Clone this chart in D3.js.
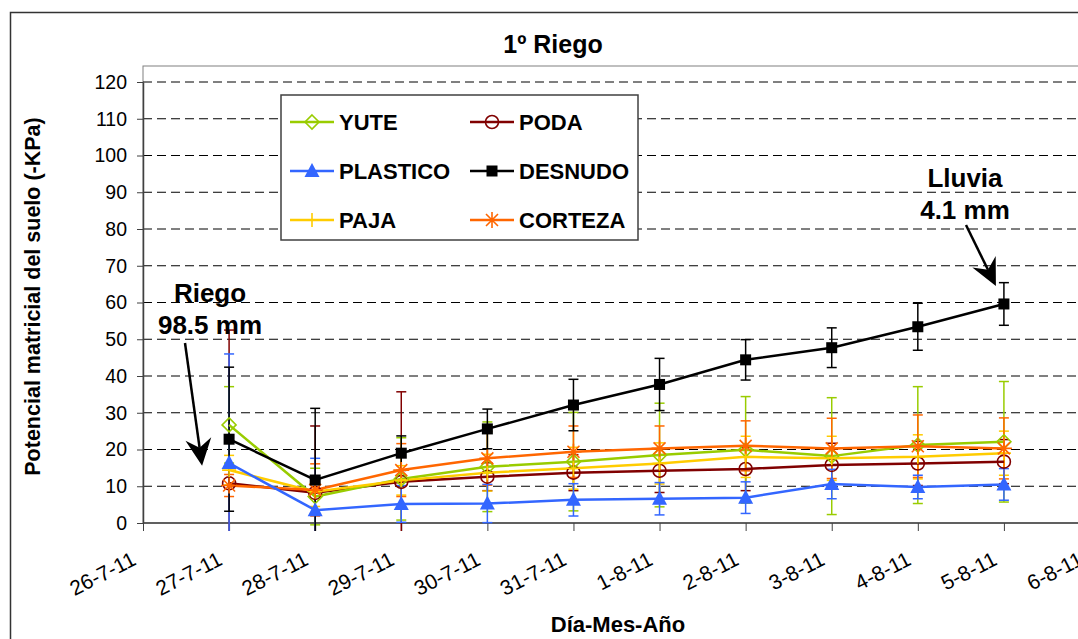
<!DOCTYPE html>
<html>
<head>
<meta charset="utf-8">
<script src="https://cdnjs.cloudflare.com/ajax/libs/d3/7.8.5/d3.min.js"></script>
<style>
  body { margin: 0; background: #fff; }
  svg { display: block; font-family: "Liberation Sans", Arial, sans-serif; }
</style>
</head>
<body>
<div id="chart"></div>
<script>
// tick labels of the date axis and the sampled dates
const dateLabels = ["26-7-11", "27-7-11", "28-7-11", "29-7-11", "30-7-11", "31-7-11",
  "1-8-11", "2-8-11", "3-8-11", "4-8-11", "5-8-11", "6-8-11"];
const sampleDates = ["27-7-11", "28-7-11", "29-7-11", "30-7-11", "31-7-11",
  "1-8-11", "2-8-11", "3-8-11", "4-8-11", "5-8-11"];
const yTicks = [0, 10, 20, 30, 40, 50, 60, 70, 80, 90, 100, 110, 120];

// soil matric potential (-kPa) and error bar half-widths
const yute = [26.7, 7.2, 12.0, 15.3, 16.7, 18.5, 19.9, 18.2, 21.2, 22.1];
const yuteErr = [10.4, 7.7, 11.2, 12.2, 13.4, 14.1, 14.5, 15.9, 15.9, 16.4];
const plastico = [16.3, 3.5, 5.2, 5.3, 6.3, 6.6, 6.9, 10.6, 9.8, 10.5];
const plasticoErr = [29.7, 14.1, 5.0, 5.2, 4.4, 4.4, 4.3, 4.0, 3.2, 4.3];
const paja = [14.4, 8.5, 11.6, 13.7, 14.9, 16.2, 18.0, 17.6, 18.0, 19.0];
const pajaErr = [4.0, 4.0, 4.0, 5.0, 5.7, 5.6, 5.6, 6.0, 6.0, 6.0];
const poda = [10.8, 8.2, 11.2, 12.6, 13.7, 14.2, 14.7, 15.8, 16.2, 16.7];
const podaErr = [41.7, 18.2, 24.5, 3.8, 4.9, 5.9, 5.9, 5.9, 6.0, 6.0];
const desnudo = [22.8, 11.7, 19.0, 25.6, 32.1, 37.7, 44.4, 47.7, 53.4, 59.6];
const desnudoErr = [19.6, 19.5, 4.7, 5.4, 7.0, 7.1, 5.5, 5.4, 6.4, 5.8];
const corteza = [10.2, 9.0, 14.4, 17.6, 19.4, 20.3, 21.0, 20.3, 20.9, 20.3];
const cortezaErr = [3.0, 7.1, 7.2, 7.3, 7.0, 6.1, 6.8, 8.2, 8.5, 8.3];

const series = [
  { name: "YUTE", values: yute, err: yuteErr, color: "#99cc00", marker: "diamond" },
  { name: "PODA", values: poda, err: podaErr, color: "#800000", marker: "circle" },
  { name: "PLASTICO", values: plastico, err: plasticoErr, color: "#3366ff", marker: "triangle" },
  { name: "DESNUDO", values: desnudo, err: desnudoErr, color: "#000000", marker: "square" },
  { name: "PAJA", values: paja, err: pajaErr, color: "#ffcc00", marker: "plus" },
  { name: "CORTEZA", values: corteza, err: cortezaErr, color: "#ff6600", marker: "star" }
];
// drawing order (last on top)
const drawOrder = ["PODA", "YUTE", "PAJA", "CORTEZA", "PLASTICO", "DESNUDO"];

const W = 1078, H = 639;
const plotLeft = 143, plotTop = 66, plotRight = 1110, plotBottom = 523;

const svg = d3.select("#chart").append("svg")
  .attr("width", W).attr("height", H);

// outer chart border
svg.append("rect")
  .attr("x", 10.5).attr("y", 12.5).attr("width", 1200).attr("height", 700)
  .attr("fill", "none").attr("stroke", "#333").attr("stroke-width", 1.5);

const x = d3.scalePoint().domain(dateLabels).range([143, 1090]);
const y = d3.scaleLinear().domain([0, 120]).range([plotBottom, 82]);

// plot frame
svg.append("rect")
  .attr("x", plotLeft).attr("y", plotTop)
  .attr("width", plotRight - plotLeft).attr("height", plotBottom - plotTop)
  .attr("fill", "none").attr("stroke", "#808080").attr("stroke-width", 1);

// dashed gridlines
svg.append("g").selectAll("line")
  .data(yTicks.filter(d => d > 0))
  .join("line")
  .attr("x1", plotLeft).attr("x2", plotRight)
  .attr("y1", d => y(d)).attr("y2", d => y(d))
  .attr("stroke", "#000").attr("stroke-width", 1)
  .attr("stroke-dasharray", "9,5");

// y axis
const yAxis = svg.append("g")
  .attr("transform", "translate(" + plotLeft + ",0)")
  .call(d3.axisLeft(y).tickValues(yTicks).tickSize(6).tickPadding(10).tickSizeOuter(0));
yAxis.select(".domain").attr("stroke", "#404040").attr("stroke-width", 1.5);
yAxis.selectAll(".tick line").attr("stroke", "#404040");
yAxis.selectAll("text").style("font-size", "19.5px").attr("fill", "#000");

// x axis
const xAxis = svg.append("g")
  .attr("transform", "translate(0," + plotBottom + ")")
  .call(d3.axisBottom(x).tickSize(8).tickSizeOuter(0));
xAxis.select(".domain").attr("d", "M" + plotLeft + ",0H" + plotRight)
  .attr("stroke", "#404040").attr("stroke-width", 1.5);
xAxis.selectAll(".tick line").attr("stroke", "#404040");
xAxis.selectAll("text")
  .style("font-size", "21px").attr("fill", "#000")
  .attr("x", 0).attr("y", 0).attr("dy", 0)
  .attr("text-anchor", "end")
  .attr("transform", "translate(-6,41) rotate(-27)");

// clip for data marks
svg.append("clipPath").attr("id", "plotClip")
  .append("rect")
  .attr("x", plotLeft).attr("y", plotTop)
  .attr("width", plotRight - plotLeft).attr("height", plotBottom - plotTop + 8);

const data = svg.append("g").attr("clip-path", "url(#plotClip)");
const byName = name => series.find(s => s.name === name);

// error bars
drawOrder.forEach(name => {
  const s = byName(name);
  const g = data.append("g").attr("stroke", s.color).attr("stroke-width", 1.5);
  s.values.forEach((v, i) => {
    const cx = x(sampleDates[i]);
    const hi = y(v + s.err[i]), lo = y(v - s.err[i]);
    g.append("line").attr("x1", cx).attr("x2", cx).attr("y1", hi).attr("y2", lo);
    g.append("line").attr("x1", cx - 5).attr("x2", cx + 5).attr("y1", hi).attr("y2", hi);
    g.append("line").attr("x1", cx - 5).attr("x2", cx + 5).attr("y1", lo).attr("y2", lo);
  });
});

// lines
const line = d3.line().x((d, i) => x(sampleDates[i])).y(d => y(d));
drawOrder.forEach(name => {
  const s = byName(name);
  data.append("path")
    .attr("d", line(s.values))
    .attr("fill", "none").attr("stroke", s.color).attr("stroke-width", 2.5);
});

function marker(g, type, color, cx, cy) {
  const m = g.append("g").attr("transform", "translate(" + cx + "," + cy + ")");
  if (type === "diamond") {
    m.append("path").attr("d", "M0,-7L7,0L0,7L-7,0Z")
      .attr("fill", "none").attr("stroke", color).attr("stroke-width", 1.6);
  } else if (type === "circle") {
    m.append("circle").attr("r", 6.5)
      .attr("fill", "none").attr("stroke", color).attr("stroke-width", 1.6);
  } else if (type === "triangle") {
    m.append("path").attr("d", "M0,-8L7.5,6L-7.5,6Z").attr("fill", color);
  } else if (type === "square") {
    m.append("rect").attr("x", -5.5).attr("y", -5.5).attr("width", 11).attr("height", 11)
      .attr("fill", color);
  } else if (type === "plus") {
    m.append("path").attr("d", "M-7,0H7M0,-7V7")
      .attr("stroke", color).attr("stroke-width", 1.6);
  } else if (type === "star") {
    m.append("path").attr("d", "M0,-8V8M-6,-6L6,6M-6,6L6,-6M-8,0H8")
      .attr("stroke", color).attr("stroke-width", 1.6);
  }
}

// markers
drawOrder.forEach(name => {
  const s = byName(name);
  s.values.forEach((v, i) => marker(data, s.marker, s.color, x(sampleDates[i]), y(v)));
});

// legend
const legend = svg.append("g");
legend.append("rect")
  .attr("x", 281).attr("y", 95).attr("width", 357).attr("height", 145)
  .attr("fill", "#fff").attr("stroke", "#404040").attr("stroke-width", 1.5);
series.forEach((s, i) => {
  const col = i % 2, row = Math.floor(i / 2);
  const lx = col === 0 ? 290 : 470;
  const ly = 122 + row * 49;
  legend.append("line").attr("x1", lx).attr("x2", lx + 44).attr("y1", ly).attr("y2", ly)
    .attr("stroke", s.color).attr("stroke-width", 2.5);
  marker(legend, s.marker, s.color, lx + 22, ly);
  legend.append("text").attr("x", lx + 49).attr("y", ly + 8)
    .style("font-size", "22px").style("font-weight", "bold").text(s.name);
});

// titles
svg.append("text").attr("x", 553).attr("y", 53).attr("text-anchor", "middle")
  .style("font-size", "25px").style("font-weight", "bold").text("1º Riego");
svg.append("text").attr("x", 618).attr("y", 632).attr("text-anchor", "middle")
  .style("font-size", "22px").style("font-weight", "bold").text("Día-Mes-Año");
svg.append("text")
  .attr("transform", "translate(40," + ((plotTop + plotBottom) / 2 + 2) + ") rotate(-90)")
  .attr("text-anchor", "middle")
  .style("font-size", "21.5px").style("font-weight", "bold")
  .text("Potencial matricial del suelo (-KPa)");

// annotations with arrows
function arrow(x1, y1, x2, y2) {
  const a = Math.atan2(y2 - y1, x2 - x1);
  const len = 27, half = 13, notch = 18;
  const p = (d, o) => [x2 - d * Math.cos(a) - o * Math.sin(a), y2 - d * Math.sin(a) + o * Math.cos(a)];
  const base = p(notch, 0);
  svg.append("line").attr("x1", x1).attr("y1", y1).attr("x2", base[0]).attr("y2", base[1])
    .attr("stroke", "#000").attr("stroke-width", 2.5);
  svg.append("path")
    .attr("d", "M" + [x2, y2] + "L" + p(len, half) + "L" + base + "L" + p(len, -half) + "Z")
    .attr("fill", "#000");
}

function note(cx, lines, top) {
  lines.forEach((t, i) => {
    svg.append("text").attr("x", cx).attr("y", top + i * 31.5).attr("text-anchor", "middle")
      .style("font-size", "26px").style("font-weight", "bold").text(t);
  });
}

note(210, ["Riego", "98.5 mm"], 302);
arrow(185, 343, x("27-7-11") - 27, y(15.6));
note(965, ["Lluvia", "4.1 mm"], 187);
arrow(966, 225, x("5-8-11") - 8, y(64.5));
</script>
</body>
</html>
